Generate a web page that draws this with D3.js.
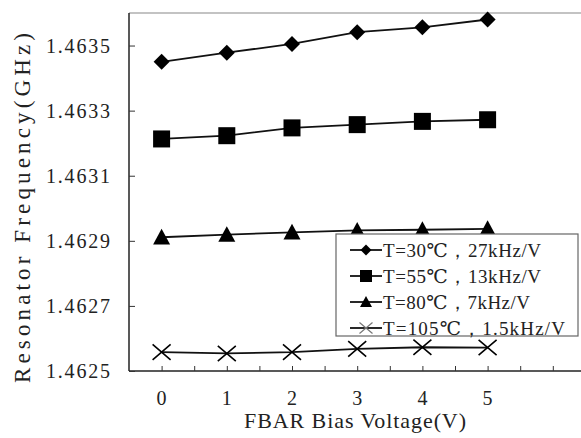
<!DOCTYPE html>
<html><head><meta charset="utf-8">
<script src="https://cdn.jsdelivr.net/npm/d3@7"></script>
<style>body{margin:0;background:#fff}svg{display:block}
svg text{font-family:"Liberation Serif","DejaVu Serif","Tinos","Times New Roman",serif;}
</style>
</head><body>
<svg id="c" width="581" height="438"></svg>
<script>
const voltages = [0, 1, 2, 3, 4, 5];
const seriesNames = ["T=30℃，27kHz/V", "T=55℃，13kHz/V", "T=80℃，7kHz/V", "T=105℃，1.5kHz/V"];
const s30 = [1.463450, 1.463478, 1.463505, 1.463541, 1.463556, 1.463580];
const s55 = [1.463213, 1.463223, 1.463247, 1.463257, 1.463267, 1.463272];
const s80 = [1.462911, 1.462919, 1.462926, 1.462932, 1.462934, 1.462937];
const s105 = [1.462558, 1.462554, 1.462558, 1.462568, 1.462573, 1.462572];
const yTicks = [1.4625, 1.4627, 1.4629, 1.4631, 1.4633, 1.4635];
const xTickLabels = ["0", "1", "2", "3", "4", "5"];
const markers = ["diamond", "square", "triangle", "cross"];
const xTitle = "FBAR Bias Voltage(V)";
const yTitle = "Resonator Frequency(GHz)";

(function () {
const svg = d3.select("#c");
const pLeft = 129, pTop = 13, pBottom = 371, pRight = 129 + 7 * 65.2;
const x = d3.scaleLinear().domain([-0.5, 6.5]).range([pLeft, pRight]);
const y = d3.scaleLinear().domain([1.4625, 1.4636]).range([pBottom, pTop]);

// top border
svg.append("line").attr("x1", pLeft).attr("x2", 581).attr("y1", pTop).attr("y2", pTop)
  .attr("stroke", "#888").attr("stroke-width", 1.2);

// x axis
const xAxis = d3.axisBottom(x).tickValues(d3.range(0, 6.51, 0.5)).tickSizeInner(-5).tickSizeOuter(0).tickFormat("");
const gx = svg.append("g").attr("transform", `translate(0,${pBottom})`).call(xAxis);
gx.select(".domain").attr("stroke", "#222").attr("stroke-width", 1.5).attr("d", `M${pLeft},0H581`);
gx.selectAll(".tick line").attr("stroke", "#333").attr("stroke-width", 1);
svg.append("g").selectAll("text").data(voltages).join("text")
  .attr("x", d => x(d)).attr("y", 405).attr("text-anchor", "middle")
  .attr("font-size", 20).attr("fill", "#222")
  .text((d, i) => xTickLabels[i]);

// y axis
const yAxis = d3.axisLeft(y).tickValues(yTicks).tickSizeInner(-6).tickSizeOuter(0).tickFormat("");
const gy = svg.append("g").attr("transform", `translate(${pLeft},0)`).call(yAxis);
gy.select(".domain").attr("stroke", "#222").attr("stroke-width", 1.5).attr("d", `M0,${pTop}V${pBottom}`);
gy.selectAll(".tick line").attr("stroke", "#333");
svg.append("g").selectAll("text").data(yTicks).join("text")
  .attr("x", 110).attr("y", d => y(d) + 7).attr("text-anchor", "end")
  .attr("font-size", 20).attr("fill", "#222")
  .attr("textLength", 64).attr("lengthAdjust", "spacing")
  .text(d => d.toFixed(4));

// titles
svg.append("text").attr("x", 355).attr("y", 428).attr("text-anchor", "middle")
  .attr("font-size", 22).attr("fill", "#222")
  .attr("textLength", 222).attr("lengthAdjust", "spacing").text(xTitle);
svg.append("text").attr("transform", "translate(30,208) rotate(-90)").attr("text-anchor", "middle")
  .attr("font-size", 23).attr("fill", "#222")
  .attr("textLength", 350).attr("lengthAdjust", "spacing").text(yTitle);

function marker(g, type, cx, cy, s) {
  if (type === "diamond") {
    g.append("path").attr("d", `M${cx},${cy - s}L${cx + s},${cy}L${cx},${cy + s}L${cx - s},${cy}Z`).attr("fill", "#000");
  } else if (type === "square") {
    g.append("rect").attr("x", cx - s).attr("y", cy - s).attr("width", 2 * s).attr("height", 2 * s).attr("fill", "#000");
  } else if (type === "triangle") {
    g.append("path").attr("d", `M${cx},${cy - s}L${cx + s},${cy + s * 0.85}L${cx - s},${cy + s * 0.85}Z`).attr("fill", "#000");
  } else {
    g.append("path").attr("d", `M${cx - s},${cy - s * 0.85}L${cx + s},${cy + s * 0.85}M${cx - s},${cy + s * 0.85}L${cx + s},${cy - s * 0.85}`)
      .attr("stroke", "#000").attr("stroke-width", 1.6).attr("fill", "none");
  }
}

const allSeries = [s30, s55, s80, s105];
const sizes = [8, 8.5, 8.5, 9];
const line = d3.line().x((d, i) => x(voltages[i])).y(d => y(d));
allSeries.forEach((s, k) => {
  const g = svg.append("g");
  g.append("path").attr("d", line(s)).attr("fill", "none").attr("stroke", "#111").attr("stroke-width", 1.8);
  s.forEach((v, i) => marker(g, markers[k], x(voltages[i]), y(v), sizes[k]));
});

// legend
const lg = svg.append("g");
lg.append("rect").attr("x", 336).attr("y", 234).attr("width", 242).attr("height", 102)
  .attr("fill", "#fff").attr("stroke", "#666").attr("stroke-width", 1.2);
const legSizes = [5.5, 6, 6, 6.5];
const legLens = [158, 158, 147, 182];
seriesNames.forEach((name, k) => {
  const cy = 250 + k * 26;
  lg.append("line").attr("x1", 350).attr("x2", 382).attr("y1", cy).attr("y2", cy).attr("stroke", "#111").attr("stroke-width", 1.8);
  const mg = lg.append("g");
  marker(mg, markers[k], 366, cy, legSizes[k]);
  if (k === 3) mg.selectAll("path").attr("stroke", "#777").attr("stroke-width", 1.2);
  lg.append("text").attr("x", 383).attr("y", cy + 7).attr("font-size", 19).attr("fill", "#222")
    .attr("textLength", legLens[k]).attr("lengthAdjust", "spacing")
    .text(name);
});
})();
</script>
</body></html>
